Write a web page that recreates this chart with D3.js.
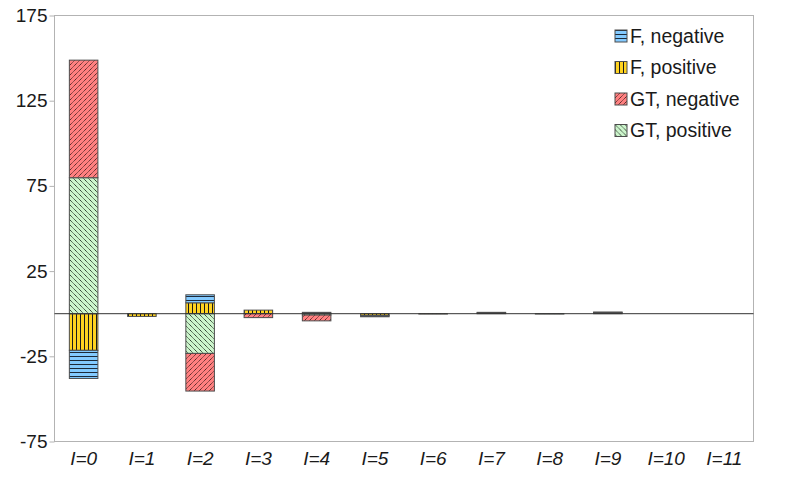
<!DOCTYPE html>
<html>
<head>
<meta charset="utf-8">
<script src="https://cdn.jsdelivr.net/npm/d3@7"></script>
<style>
  html, body { margin: 0; padding: 0; background: #fff; }
  svg { display: block; font-family: "Liberation Sans", Arial, sans-serif; }
</style>
</head>
<body>
<svg id="chart" width="789" height="486"></svg>
<script>
// ---- data ----
const categories = ["I=0","I=1","I=2","I=3","I=4","I=5","I=6","I=7","I=8","I=9","I=10","I=11"];
const fNegative  = [-16.5, 0,   4.7,  0,   0.8, -0.8, 0,    0.4, 0,    0.5, 0, 0];
const fPositive  = [-21.5, -1.6, 6.4, 2.1, 0,   -1.0, -0.2, 0.4, 0,    0.5, 0, 0];
const gtNegative = [69,    0,  -22.1, -2.3, -3.4, 0,   0,    0,   0,    0,   0, 0];
const gtPositive = [79.8,  0,  -23.3, 0,   -0.8, 0,    0,    0,   -0.2, 0,   0, 0];
const yTicks = [-75, -25, 25, 75, 125, 175];
const legendLabels = ["F, negative", "F, positive", "GT, negative", "GT, positive"];

// ---- layout ----
const plot = { left: 54.5, right: 753.5, top: 15.5, bottom: 441.5 };
const FONT = "'Liberation Sans', Arial, sans-serif";

const svg = d3.select("#chart");

const rows = categories.map((c, i) => ({
  cat: c,
  "F positive": fPositive[i],
  "F negative": fNegative[i],
  "GT positive": gtPositive[i],
  "GT negative": gtNegative[i]
}));
const stackKeys = ["F positive", "F negative", "GT positive", "GT negative"];
const series = d3.stack().keys(stackKeys).offset(d3.stackOffsetDiverging)(rows);

const x = d3.scaleBand().domain(categories)
  .range([plot.left, plot.right]).paddingInner(0.51).paddingOuter(0.255);
const y = d3.scaleLinear().domain([-75, 175]).range([plot.bottom, plot.top]);

// ---- patterns ----
const defs = svg.append("defs");
function pat(id, bg, draw) {
  const p = defs.append("pattern").attr("id", id).attr("patternUnits", "userSpaceOnUse")
    .attr("width", 4).attr("height", 4);
  p.append("rect").attr("width", 4).attr("height", 4).attr("fill", bg);
  draw(p);
}
pat("pFneg", "#83caff", p => p.append("line").attr("x1", 0).attr("y1", 0.5).attr("x2", 4).attr("y2", 0.5)
  .attr("stroke", "#1c2a3a").attr("stroke-width", 1));
pat("pFpos", "#ffd320", p => p.append("line").attr("x1", 0.5).attr("y1", 0).attr("x2", 0.5).attr("y2", 4)
  .attr("stroke", "#1a1a1a").attr("stroke-width", 1));
function diag(id, bg, dir, col, w) {
  const s = 5;
  const p = defs.append("pattern").attr("id", id).attr("patternUnits", "userSpaceOnUse")
    .attr("width", s).attr("height", s);
  p.append("rect").attr("width", s).attr("height", s).attr("fill", bg);
  const d = dir > 0
    ? `M0,${s} L${s},0 M-1,1 L1,-1 M${s-1},${s+1} L${s+1},${s-1}`
    : `M0,0 L${s},${s} M-1,${s-1} L1,${s+1} M${s-1},-1 L${s+1},1`;
  p.append("path").attr("d", d).attr("stroke", col).attr("stroke-width", w)
    .attr("stroke-dasharray", "1.3,0.5");
}
diag("pGTneg", "#ff8080", 1, "#3a1a1a", 0.9);
diag("pGTpos", "#ccf5cc", -1, "#263326", 1);

const fills = {
  "F negative": "url(#pFneg)",
  "F positive": "url(#pFpos)",
  "GT negative": "url(#pGTneg)",
  "GT positive": "url(#pGTpos)"
};
const legendKeys = ["F negative", "F positive", "GT negative", "GT positive"];

// ---- plot frame ----
svg.append("rect")
  .attr("x", plot.left).attr("y", plot.top)
  .attr("width", plot.right - plot.left).attr("height", plot.bottom - plot.top)
  .attr("fill", "none").attr("stroke", "#b3b3b3").attr("stroke-width", 1);

// ---- y axis ----
const yAxis = svg.append("g").attr("transform", `translate(${plot.left},0)`)
  .call(d3.axisLeft(y).tickValues(yTicks).tickSize(5).tickPadding(2).tickFormat(d => String(d)));
yAxis.select(".domain").remove();
yAxis.selectAll(".tick line").attr("stroke", "#b3b3b3");
yAxis.selectAll(".tick text").attr("fill", "#1a1a1a").style("font-size", "19px")
  .style("font-family", FONT);

// ---- bars ----
svg.append("g").selectAll("g").data(series).join("g")
  .attr("fill", d => fills[d.key])
  .selectAll("rect").data(d => d.filter(v => v[1] !== v[0])).join("rect")
  .attr("x", d => x(d.data.cat))
  .attr("width", x.bandwidth())
  .attr("y", d => y(Math.max(d[0], d[1])))
  .attr("height", d => Math.abs(y(d[0]) - y(d[1])))
  .attr("stroke", "#4d4d4d").attr("stroke-width", 1);

// ---- zero line ----
svg.append("line")
  .attr("x1", plot.left).attr("x2", plot.right)
  .attr("y1", y(0)).attr("y2", y(0))
  .attr("stroke", "#333").attr("stroke-width", 1);

// ---- x axis labels ----
const xAxis = svg.append("g").attr("transform", `translate(0,${plot.bottom})`)
  .call(d3.axisBottom(x).tickSize(0).tickPadding(10));
xAxis.select(".domain").remove();
xAxis.selectAll(".tick text").attr("fill", "#1a1a1a").style("font-size", "19px")
  .style("font-style", "italic")
  .style("font-family", FONT);

// ---- legend ----
const lg = svg.append("g").attr("transform", "translate(615,30)");
const item = lg.selectAll("g").data(legendKeys).join("g")
  .attr("transform", (d, i) => `translate(0,${i * 31.5})`);
item.append("rect").attr("x", 0).attr("y", 0).attr("width", 12).attr("height", 12)
  .attr("fill", d => fills[d]).attr("stroke", "#4d4d4d").attr("stroke-width", 1);
item.append("text").attr("x", 15).attr("y", 6).attr("dy", "0.35em")
  .attr("fill", "#1a1a1a").style("font-size", "19.5px").style("font-family", FONT)
  .text((d, i) => legendLabels[i]);
</script>
</body>
</html>
